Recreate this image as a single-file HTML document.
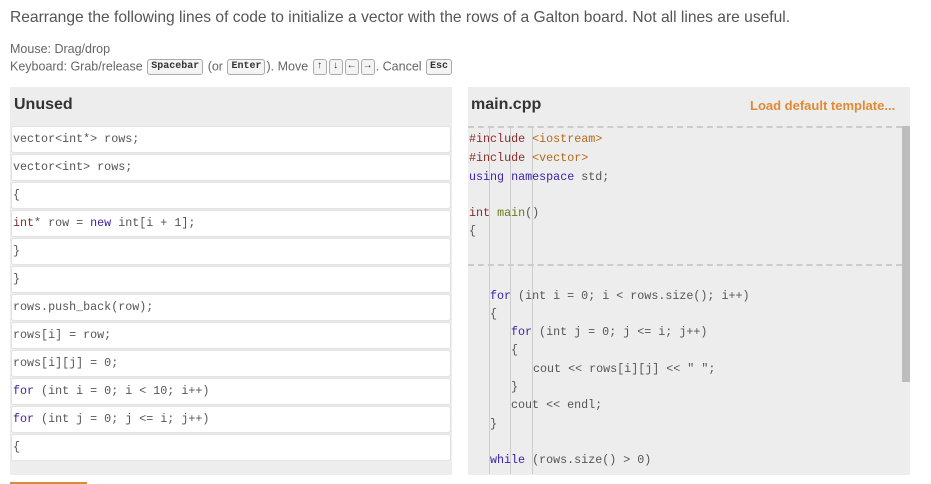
<!DOCTYPE html>
<html><head><meta charset="utf-8"><style>
*{margin:0;padding:0;box-sizing:border-box}
body{width:931px;height:484px;background:#fff;position:relative;overflow:hidden;font-family:"Liberation Sans",sans-serif;color:#555}
.a{position:absolute;white-space:nowrap}
.mono{font-family:"Liberation Mono",monospace;font-size:11.7px}
.key{display:inline-block;border:1px solid #aaa;border-radius:3px;background:#f4f4f4;font-family:"Liberation Mono",monospace;font-weight:bold;font-size:10px;color:#333;padding:0 3px;line-height:14px;vertical-align:middle;margin:0 1px}
.item{position:absolute;left:11px;width:440px;height:27px;background:#fff;border:1px solid #e2e2e2;border-radius:3px;padding-left:1px;line-height:25px;color:#555}
.k{color:#3c22a8}
.t{color:#8a2c2c}
.s{color:#b26a1a}
.f{color:#6b7a1f}
.cl{position:absolute;left:469px;color:#555;line-height:16px}
</style></head><body>
<div class="a" style="left:10px;top:9px;font-size:15.6px;color:#555">Rearrange the following lines of code to initialize a vector with the rows of a Galton board. Not all lines are useful.</div>
<div class="a" style="left:10px;top:42px;font-size:12.5px;color:#666">Mouse: Drag/drop</div>
<div class="a" style="left:10px;top:59px;font-size:12.5px;color:#666">Keyboard: Grab/release <span class="key">Spacebar</span> (or <span class="key">Enter</span>). Move <span class="key">↑</span><span class="key">↓</span><span class="key">←</span><span class="key">→</span>. Cancel <span class="key">Esc</span></div>

<div class="a" style="left:10px;top:87px;width:442px;height:388px;background:#ededed"></div>
<div class="a" style="left:14px;top:96px;font-size:16px;font-weight:bold;color:#333">Unused</div>
<div class="item mono" style="top:126px">vector&lt;int*&gt; rows;</div>
<div class="item mono" style="top:154px">vector&lt;int&gt; rows;</div>
<div class="item mono" style="top:182px">{</div>
<div class="item mono" style="top:210px"><span class="t">int</span>* row = <span class="k">new</span> int[i + 1];</div>
<div class="item mono" style="top:238px">}</div>
<div class="item mono" style="top:266px">}</div>
<div class="item mono" style="top:294px">rows.push_back(row);</div>
<div class="item mono" style="top:322px">rows[i] = row;</div>
<div class="item mono" style="top:350px">rows[i][j] = 0;</div>
<div class="item mono" style="top:378px"><span class="k">for</span> (int i = 0; i &lt; 10; i++)</div>
<div class="item mono" style="top:406px"><span class="k">for</span> (int j = 0; j &lt;= i; j++)</div>
<div class="item mono" style="top:434px">{</div>

<div class="a" style="left:468px;top:87px;width:442px;height:388px;background:#ededed"></div>
<div class="a" style="left:471px;top:96px;font-size:16px;font-weight:bold;color:#333">main.cpp</div>
<div class="a" style="left:750px;top:98px;font-size:13px;font-weight:bold;color:#e08a35">Load default template...</div>
<div class="a" style="left:468px;top:126px;width:434px;border-top:2px dashed #ccc"></div>
<div class="a" style="left:468px;top:264px;width:434px;border-top:2px dashed #ccc"></div>
<div class="a" style="left:902px;top:126px;width:8px;height:256px;background:#bdbdbd"></div>
<div class="a" style="left:489px;top:126px;width:1px;height:348px;background:#ccc"></div>
<div class="a" style="left:510px;top:126px;width:1px;height:348px;background:#ccc"></div>
<div class="a" style="left:532px;top:126px;width:1px;height:348px;background:#ccc"></div>

<div class="cl mono" style="top:131px"><span class="t">#include</span> <span class="s">&lt;iostream&gt;</span></div>
<div class="cl mono" style="top:150px"><span class="t">#include</span> <span class="s">&lt;vector&gt;</span></div>
<div class="cl mono" style="top:169px"><span class="k">using</span> <span class="k">namespace</span> std;</div>
<div class="cl mono" style="top:205px"><span class="t">int</span> <span class="f">main</span>()</div>
<div class="cl mono" style="top:223px">{</div>
<div class="cl mono" style="top:288px;left:490px"><span class="k">for</span> (int i = 0; i &lt; rows.size(); i++)</div>
<div class="cl mono" style="top:306px;left:490px">{</div>
<div class="cl mono" style="top:324px;left:511px"><span class="k">for</span> (int j = 0; j &lt;= i; j++)</div>
<div class="cl mono" style="top:342px;left:511px">{</div>
<div class="cl mono" style="top:361px;left:533px">cout &lt;&lt; rows[i][j] &lt;&lt; " ";</div>
<div class="cl mono" style="top:379px;left:511px">}</div>
<div class="cl mono" style="top:397px;left:511px">cout &lt;&lt; endl;</div>
<div class="cl mono" style="top:416px;left:490px">}</div>
<div class="cl mono" style="top:452px;left:490px"><span class="k">while</span> (rows.size() &gt; 0)</div>
<div class="a" style="left:0;top:475px;width:931px;height:9px;background:#fff"></div>
<div class="a" style="left:10px;top:482px;width:77px;height:2px;background:#d98c3a"></div>
</body></html>
